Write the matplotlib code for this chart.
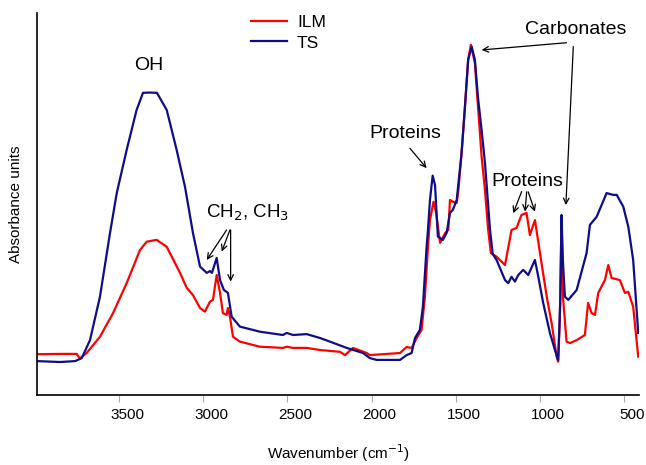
import matplotlib
matplotlib.use("Agg")
import matplotlib.pyplot as plt
import matplotlib.transforms as mtransforms

plt.rcParams["font.family"] = ["Liberation Sans", "DejaVu Sans"]

# FTIR spectra (wavenumber in cm-1, absorbance in a.u.)
ts_wavenumber = [3989, 3852, 3763, 3734, 3723, 3674, 3615, 3555, 3515, 3456, 3397,
                 3359, 3318, 3276, 3218, 3159, 3109, 3062, 3020, 2980, 2961, 2949,
                 2921, 2901, 2878, 2860, 2854, 2832, 2783, 2664, 2527, 2505, 2467,
                 2386, 2307, 2248, 2148, 2051, 2010, 1970, 1831, 1792, 1762, 1742,
                 1713, 1695, 1673, 1665, 1653, 1637, 1623, 1606, 1576, 1554, 1534,
                 1517, 1494, 1465, 1445, 1426, 1405, 1386, 1368, 1346, 1326, 1296,
                 1280, 1257, 1207, 1188, 1168, 1148, 1128, 1099, 1069, 1029, 1009,
                 980, 940, 910, 891, 878, 871, 863, 851, 831, 781, 722, 702, 662,
                 603, 564, 543, 504, 474, 445, 415]
ts_absorbance = [0.113, 0.110, 0.113, 0.120, 0.123, 0.183, 0.327, 0.540, 0.673, 0.817,
                 0.950, 1.007, 1.008, 1.007, 0.950, 0.817, 0.693, 0.540, 0.428, 0.407,
                 0.413, 0.407, 0.457, 0.383, 0.350, 0.343, 0.340, 0.261, 0.228, 0.211,
                 0.200, 0.207, 0.200, 0.203, 0.190, 0.178, 0.157, 0.140, 0.123, 0.117,
                 0.117, 0.133, 0.140, 0.190, 0.217, 0.294, 0.494, 0.550, 0.650, 0.731,
                 0.700, 0.528, 0.517, 0.540, 0.607, 0.617, 0.650, 0.807, 0.961, 1.117,
                 1.161, 1.117, 0.994, 0.883, 0.773, 0.550, 0.470, 0.450, 0.383, 0.373,
                 0.394, 0.378, 0.400, 0.417, 0.400, 0.450, 0.394, 0.307, 0.207, 0.150,
                 0.117, 0.317, 0.600, 0.450, 0.328, 0.317, 0.350, 0.473, 0.567, 0.594,
                 0.673, 0.667, 0.667, 0.628, 0.561, 0.450, 0.207]

ilm_wavenumber = [3989, 3852, 3753, 3745, 3734, 3694, 3615, 3537, 3456, 3377, 3337,
                  3278, 3218, 3139, 3099, 3062, 3020, 2991, 2961, 2943, 2921, 2901,
                  2884, 2862, 2854, 2842, 2824, 2783, 2664, 2527, 2505, 2467, 2386,
                  2307, 2188, 2158, 2111, 2029, 2010, 1831, 1792, 1762, 1732, 1703,
                  1683, 1665, 1653, 1632, 1617, 1593, 1583, 1563, 1544, 1534, 1517,
                  1494, 1484, 1465, 1445, 1426, 1410, 1386, 1366, 1346, 1326, 1307,
                  1291, 1257, 1207, 1168, 1138, 1109, 1079, 1059, 1029, 999, 959,
                  930, 900, 891, 881, 871, 861, 841, 821, 781, 732, 713, 692, 672,
                  653, 613, 593, 573, 524, 494, 474, 445, 415]
ilm_absorbance = [0.136, 0.137, 0.137, 0.130, 0.122, 0.140, 0.194, 0.273, 0.373, 0.483,
                  0.511, 0.517, 0.494, 0.407, 0.357, 0.333, 0.290, 0.278, 0.311, 0.317,
                  0.400, 0.340, 0.273, 0.267, 0.290, 0.261, 0.194, 0.178, 0.161, 0.157,
                  0.161, 0.157, 0.157, 0.150, 0.144, 0.133, 0.157, 0.140, 0.133, 0.140,
                  0.160, 0.157, 0.190, 0.217, 0.328, 0.494, 0.583, 0.644, 0.610, 0.507,
                  0.517, 0.540, 0.550, 0.650, 0.644, 0.640, 0.683, 0.807, 0.961, 1.117,
                  1.167, 1.107, 0.950, 0.794, 0.683, 0.550, 0.473, 0.461, 0.433, 0.550,
                  0.557, 0.600, 0.607, 0.533, 0.583, 0.473, 0.328, 0.240, 0.128, 0.111,
                  0.250, 0.583, 0.317, 0.178, 0.173, 0.183, 0.200, 0.307, 0.273, 0.267,
                  0.340, 0.383, 0.433, 0.390, 0.383, 0.340, 0.344, 0.294, 0.128]

x_ticks = [3500, 3000, 2500, 2000, 1500, 1000, 500]

figure = plt.figure(figsize=(6.46, 4.65), dpi=100)
axes = figure.add_axes([0.0573, 0.1505, 0.9317, 0.8215])

axes.plot(ilm_wavenumber, ilm_absorbance, color="#FF0000", lw=1.6, label="ILM")
axes.plot(ts_wavenumber, ts_absorbance, color="#0D0D8A", lw=1.6, label="TS")

axes.set_xlim(3989, 411)
axes.set_ylim(0, 1.273)
axes.set_xticks(x_ticks)
axes.set_yticks([])
axes.tick_params(axis="x", direction="out", length=5, width=0.8,
                 color="#AAAAAA", labelsize=11, pad=4)
# the tick labels sit a little to the right of their ticks in the original
shift = mtransforms.ScaledTranslation(0.08, 0, figure.dpi_scale_trans)
for label in axes.get_xticklabels():
    label.set_transform(label.get_transform() + shift)
for side in ["top", "right"]:
    axes.spines[side].set_visible(False)
for side in ["left", "bottom"]:
    axes.spines[side].set_linewidth(1.2)

axes.set_xlabel("Wavenumber (cm$^{-1}$)", fontsize=11, labelpad=15)
axes.set_ylabel("Absorbance units", fontsize=11, labelpad=10)

axes.legend(loc="upper left", bbox_to_anchor=(251 / 646, 1 - 15 / 465),
            bbox_transform=figure.transFigure, frameon=False, fontsize=12.5,
            handlelength=2.1, handletextpad=0.55, labelspacing=0.3,
            borderpad=0, borderaxespad=0)

arrow = dict(arrowstyle="->", color="black", lw=0.9, shrinkA=0, shrinkB=0)
note_size = 14

axes.text(3325, 1.097, "OH", fontsize=note_size, ha="center", va="center")

axes.text(2740, 0.607, "CH$_2$, CH$_3$", fontsize=13.5, ha="center", va="center")
for start, end in [((2862, 0.55), (2980, 0.45)),
                   ((2842, 0.55), (2891, 0.478)),
                   ((2838, 0.55), (2838, 0.378))]:
    axes.annotate("", xy=end, xytext=start, arrowprops=arrow)

axes.text(1802, 0.873, "Proteins", fontsize=note_size, ha="center", va="center")
axes.annotate("", xy=(1673, 0.756), xytext=(1772, 0.822), arrowprops=arrow)

axes.text(785, 1.217, "Carbonates", fontsize=note_size, ha="center", va="center")
axes.annotate("", xy=(1346, 1.15), xytext=(841, 1.174), arrowprops=arrow)
axes.annotate("", xy=(845, 0.633), xytext=(801, 1.161), arrowprops=arrow)

axes.text(1072, 0.713, "Proteins", fontsize=note_size, ha="center", va="center")
for start, end in [((1108, 0.678), (1158, 0.606)),
                   ((1078, 0.677), (1088, 0.611)),
                   ((1069, 0.677), (1029, 0.611))]:
    axes.annotate("", xy=end, xytext=start, arrowprops=arrow)

figure.savefig("out.png", dpi=100)
